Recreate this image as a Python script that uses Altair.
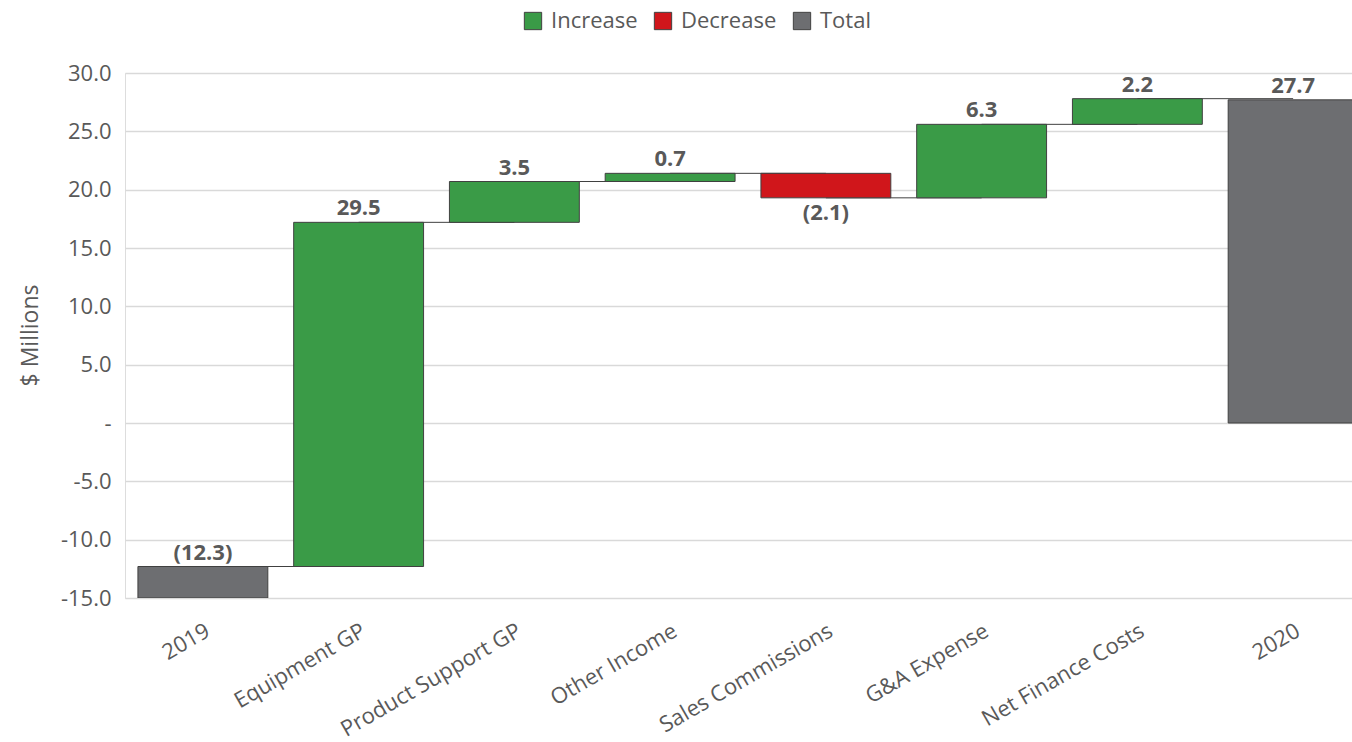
import altair as alt
import pandas as pd

categories = ["2019", "Equipment GP", "Product Support GP", "Other Income",
              "Sales Commissions", "G&A Expense", "Net Finance Costs", "2020"]
values = [-12.3, 29.5, 3.5, 0.7, -2.1, 6.3, 2.2, 27.7]
kinds = ["Total", "Increase", "Increase", "Increase", "Decrease", "Increase", "Increase", "Total"]
y_ticks = [-15, -10, -5, 0, 5, 10, 15, 20, 25, 30]
axis_min = -15

rows = []
running = 0.0
for c, v, k in zip(categories, values, kinds):
    if k == "Total":
        start = 0.0 if v >= 0 else axis_min
        end = v
        running = v
    else:
        start = running
        end = running + v
        running = end
    label = f"({abs(v):.1f})" if v < 0 else f"{v:.1f}"
    rows.append(dict(cat=c, kind=k, start=start, end=end,
                     top=max(start, end), bottom=min(start, end), label=label))
df = pd.DataFrame(rows)

conn = pd.DataFrame([
    dict(cat=categories[i], cat2=categories[i + 1], level=rows[i]["end"])
    for i in range(len(categories) - 1)
])

FONT = "Open Sans"
TXT = "#595959"
FS = 22

xscale = alt.Scale(domain=categories, range=[0, 1246], paddingInner=0.166, paddingOuter=0.083)
yscale = alt.Scale(domain=[-15, 30], nice=False, zero=False)

xenc = alt.X("cat:N", scale=xscale, sort=categories,
             axis=alt.Axis(title=None, labelAngle=-30, labelFontSize=FS, labelColor=TXT,
                           labelFont=FONT, domain=False, ticks=False, labelPadding=22,
                           labelAlign="right", labelBaseline="top", labelLimit=0))

base = alt.Chart(df)

connectors = alt.Chart(conn).mark_rule(color="#404040", strokeWidth=1, clip=True).encode(
    x=alt.X("cat:N", scale=xscale, sort=categories),
    x2="cat2:N",
    y=alt.Y("level:Q", scale=yscale),
)

bars = base.mark_bar(stroke="#404040", strokeWidth=1, clip=True).encode(
    x=xenc,
    y=alt.Y("start:Q", scale=yscale,
            axis=alt.Axis(title="$ Millions", values=y_ticks, grid=True, gridColor="#d9d9d9",
                          gridWidth=1.5, domain=False, ticks=False, labelPadding=14,
                          labelFontSize=FS, labelColor=TXT, labelFont=FONT,
                          labelExpr="datum.value == 0 ? '-' : (datum.value < 0 ? '-' + format(-datum.value, '.1f') : format(datum.value, '.1f'))",
                          titleFontSize=23, titleColor=TXT, titleFont=FONT,
                          titleFontWeight="normal", titleAngle=-90, titleX=-95,
                          titleY=262, titleAlign="center", titleBaseline="middle")),
    y2="end:Q",
    color=alt.Color("kind:N",
                    scale=alt.Scale(domain=["Increase", "Decrease", "Total"],
                                    range=["#3A9B47", "#D0161B", "#6D6E71"]),
                    legend=alt.Legend(title=None, orient="none", direction="horizontal",
                                      legendX=397, legendY=-63, symbolType="square",
                                      symbolSize=300, symbolStrokeColor="#404040",
                                      symbolStrokeWidth=1, symbolOpacity=1,
                                      labelFontSize=FS, labelColor=TXT, labelFont=FONT,
                                      labelOffset=7, columnPadding=14)),
)

labels_up = base.transform_filter("datum.kind != 'Decrease'").mark_text(
    font=FONT, fontSize=FS, fontWeight="bold", color=TXT, baseline="bottom", dy=-2
).encode(
    x=alt.X("cat:N", scale=xscale, sort=categories),
    y=alt.Y("top:Q", scale=yscale),
    text="label:N",
)

labels_down = base.transform_filter("datum.kind == 'Decrease'").mark_text(
    font=FONT, fontSize=FS, fontWeight="bold", color=TXT, baseline="top", dy=5
).encode(
    x=alt.X("cat:N", scale=xscale, sort=categories),
    y=alt.Y("bottom:Q", scale=yscale),
    text="label:N",
)

chart = alt.layer(connectors, bars, labels_up, labels_down).properties(
    width=1227, height=525,
    autosize=alt.AutoSizeParams(type="none"),
    padding={"left": 125, "top": 73, "right": 0, "bottom": 144},
).configure_view(stroke=None).configure(background="white")

chart.save("out.html", embed_options={"renderer": "svg", "actions": False})
